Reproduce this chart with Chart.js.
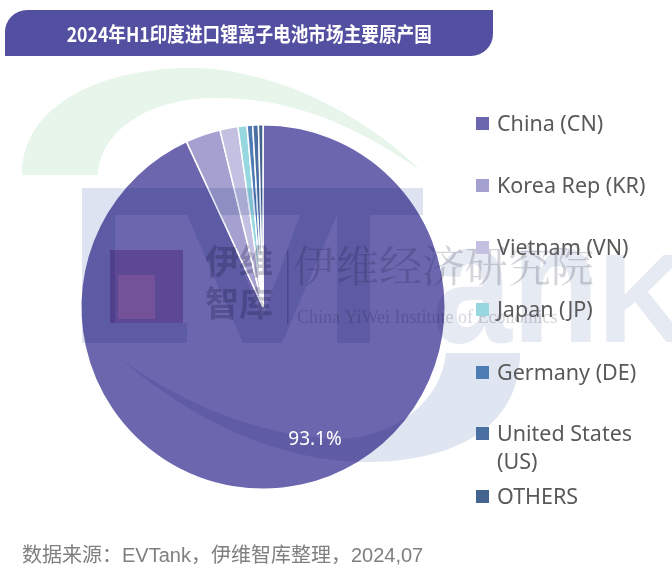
<!DOCTYPE html>
<html>
<head>
<meta charset="utf-8">
<script src="https://cdn.jsdelivr.net/npm/chart.js@4.4.1/dist/chart.umd.min.js"></script>
<style>
	html, body { margin: 0; padding: 0; background: #fff; }
	#wrap { position: relative; width: 672px; height: 574px; overflow: hidden; }
	#chart { position: absolute; left: 0; top: 0; }
	.title {
		position: absolute; left: 5px; top: 10px; width: 488px; height: 46px;
		background: #5450a1; border-radius: 22px 0 22px 0;
		color: #fff; font: bold 20.5px "Noto Sans CJK SC", sans-serif;
		line-height: 46px; text-align: center;
	}
	.title span { display: inline-block; transform: scaleX(0.86); }
	.legend { position: absolute; left: 476px; top: 0; }
	.legend .item { position: absolute; left: 0; width: 196px; }
	.legend .box { position: absolute; left: 0; top: 8px; width: 13px; height: 13px; }
	.legend .text {
		position: absolute; left: 21px; width: 170px;
		font: 21.5px "Noto Sans", sans-serif; line-height: 28px; color: #595959;
	}
	.source {
		position: absolute; left: 22px; top: 539px;
		font: 20px "Liberation Sans", "Noto Sans CJK SC", sans-serif; color: #7f7f7f;
	}
</style>
</head>
<body>
<div id="wrap">
	<canvas id="chart" width="672" height="574"></canvas>
	<div class="title"><span>2024年H1印度进口锂离子电池市场主要原产国</span></div>
	<div class="legend" id="legend"></div>
	<div class="source">数据来源：EVTank，伊维智库整理，2024,07</div>
</div>
<script>
const countries = ['China (CN)', 'Korea Rep (KR)', 'Vietnam (VN)', 'Japan (JP)', 'Germany (DE)', 'United States (US)', 'OTHERS'];
const shares = [93.1, 3.1, 1.6, 0.8, 0.5, 0.5, 0.4];
const colors = ['#6c66af', '#a4a0d0', '#c3c0e1', '#97d7df', '#4e7cb5', '#4a6fa3', '#44638f'];
const shownLabels = ['93.1%', '', '', '', '', '', ''];

function poly(ctx, pts) {
	ctx.beginPath();
	pts.forEach(([x, y], i) => i ? ctx.lineTo(x, y) : ctx.moveTo(x, y));
	ctx.closePath();
	ctx.fill();
}

// faint EVTank / 伊维 logo laid over the plot like in the source image
const watermark = {
	id: 'watermark',
	afterDatasetsDraw(chart) {
		const ctx = chart.ctx;
		ctx.save();

		// green swoosh
		ctx.fillStyle = '#e7f5ea';
		ctx.beginPath();
		ctx.moveTo(22, 175);
		ctx.bezierCurveTo(22, 100, 110, 68, 190, 68);
		ctx.bezierCurveTo(280, 68, 370, 120, 420, 170);
		ctx.bezierCurveTo(340, 115, 280, 98, 215, 98);
		ctx.bezierCurveTo(150, 98, 100, 130, 98, 175);
		ctx.closePath();
		ctx.fill();

		ctx.globalCompositeOperation = 'multiply';

		// E V T blocks
		ctx.fillStyle = '#dde3f0';
		ctx.fillRect(82, 188, 341, 27);
		ctx.fillRect(82, 215, 33, 128);
		ctx.fillRect(115, 323, 72, 20);
		poly(ctx, [[187, 215], [221, 215], [262, 318], [300, 215], [337, 215], [282, 343], [243, 343]]);
		ctx.fillRect(337, 215, 33, 128);

		// ank
		ctx.fillStyle = '#e6eaf2';
		ctx.save();
		ctx.translate(432, 342);
		ctx.scale(0.82, 1);
		ctx.font = 'bold 175px "Liberation Sans"';
		ctx.fillText('an', 0, 0);
		ctx.restore();
		ctx.font = 'bold 126px "Liberation Sans"';
		ctx.fillText('K', 598, 342);

		// lower crescent of the logo
		ctx.fillStyle = '#dfe6f1';
		ctx.beginPath();
		ctx.moveTo(120, 358);
		ctx.bezierCurveTo(190, 420, 280, 462, 367, 462);
		ctx.bezierCurveTo(450, 462, 520, 430, 520, 353);
		ctx.lineTo(446, 353);
		ctx.bezierCurveTo(440, 410, 380, 445, 320, 438);
		ctx.bezierCurveTo(240, 430, 170, 395, 120, 358);
		ctx.closePath();
		ctx.fill();

		// 伊维智库 mark
		ctx.fillStyle = '#d8b4d8';
		ctx.fillRect(110, 250, 73, 73);
		ctx.globalCompositeOperation = 'source-over';
		ctx.fillStyle = 'rgba(200, 120, 175, 0.22)';
		ctx.fillRect(118, 275, 37, 44);
		ctx.globalCompositeOperation = 'multiply';
		ctx.fillStyle = '#c9c9d3';
		ctx.textBaseline = 'top';
		ctx.font = 'bold 34px "Noto Sans CJK SC"';
		ctx.fillText('伊维', 205, 244);
		ctx.fillText('智库', 205, 286);
		ctx.fillRect(287, 250, 1.5, 74);
		ctx.fillStyle = '#d4d4da';
		ctx.font = '43px "Noto Serif CJK SC", "Noto Sans CJK SC"';
		ctx.fillText('伊维经济研究院', 293, 244);
		ctx.textBaseline = 'alphabetic';
		ctx.font = '18px "Liberation Serif"';
		ctx.fillText('China YiWei Institute of Economics', 297, 323);
		ctx.restore();
	}
};

const sliceLabels = {
	id: 'sliceLabels',
	afterDatasetsDraw(chart) {
		const ctx = chart.ctx;
		const meta = chart.getDatasetMeta(0);
		ctx.save();
		ctx.fillStyle = '#fff';
		ctx.font = '19px "Noto Sans", sans-serif';
		ctx.textAlign = 'center';
		ctx.textBaseline = 'middle';
		meta.data.forEach((arc, i) => {
			if (!shownLabels[i]) return;
			const a = arc.startAngle + (arc.endAngle - arc.startAngle) * 0.473;
			const r = arc.outerRadius * 0.78;
			ctx.fillText(shownLabels[i], arc.x + Math.cos(a) * r, arc.y + Math.sin(a) * r);
		});
		ctx.restore();
	}
};

const chart = new Chart(document.getElementById('chart'), {
	type: 'pie',
	data: {
		labels: countries,
		datasets: [{
			data: shares,
			backgroundColor: colors,
			borderColor: '#ffffff',
			borderWidth: 1.5
		}]
	},
	options: {
		responsive: false,
		animation: false,
		events: [],
		layout: {
			padding: { left: 80, top: 124, right: 226, bottom: 84 }
		},
		plugins: {
			legend: { display: false },
			tooltip: { enabled: false },
			title: { display: false }
		}
	},
	plugins: [watermark, sliceLabels]
});

// legend built from the chart's own labels and colours
const legendTops = [123, 185, 247, 309, 372, 433, 496];
const legendEl = document.getElementById('legend');
chart.data.labels.forEach((label, i) => {
	const item = document.createElement('div');
	item.className = 'item';
	item.style.top = (legendTops[i] - 14) + 'px';
	item.innerHTML = `<div class="box" style="background:${colors[i]}"></div><div class="text">${label}</div>`;
	legendEl.appendChild(item);
});
</script>
</body>
</html>
